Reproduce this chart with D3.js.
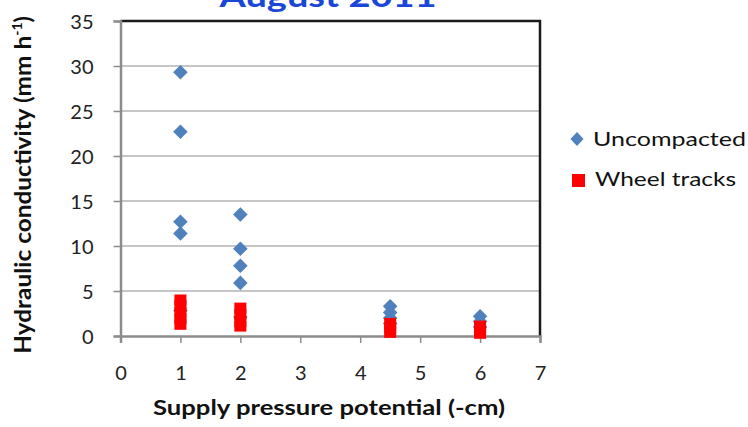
<!DOCTYPE html>
<html>
<head>
<meta charset="utf-8">
<script src="https://cdn.jsdelivr.net/npm/d3@7"></script>
<style>
  html, body { margin: 0; padding: 0; background: #fff; }
  svg { display: block; font-family: Lato, "Open Sans", sans-serif; }
</style>
</head>
<body>
<svg id="chart" width="748" height="427"></svg>
<script>
// Supply pressure potential (-cm) and hydraulic conductivity (mm/h) per series
const uncompactedX = [1, 1, 1, 1, 1, 2, 2, 2, 2, 2, 4.5, 4.5, 4.5, 4.5, 6, 6, 6];
const uncompactedY = [29.3, 22.7, 12.7, 11.4, 2.8, 13.5, 9.7, 7.8, 5.9, 2.1, 3.3, 2.6, 2.0, 1.4, 2.2, 1.6, 1.0];
const wheelX = [1, 1, 1, 1, 1, 2, 2, 2, 2, 4.5, 4.5, 4.5, 6, 6, 6];
const wheelY = [4.0, 3.4, 2.6, 1.9, 1.3, 3.1, 2.4, 1.6, 1.1, 1.4, 0.9, 0.4, 1.1, 0.7, 0.3];
const xTicks = [0, 1, 2, 3, 4, 5, 6, 7];
const yTicks = [0, 5, 10, 15, 20, 25, 30, 35];
const seriesNames = ["Uncompacted", "Wheel tracks"];
const seriesColors = ["#4f81bd", "#ff0000"];

const svg = d3.select("#chart");
const plot = { left: 120.5, right: 540, top: 21, bottom: 336 };

const x = d3.scaleLinear().domain([0, 7]).range([plot.left, plot.right]);
const y = d3.scaleLinear().domain([0, 35]).range([plot.bottom, plot.top]);

// Title (runs off the top edge)
svg.append("text")
  .attr("x", 328).attr("y", 7)
  .attr("text-anchor", "middle")
  .attr("font-weight", "bold").attr("font-size", 30)
  .attr("textLength", 217).attr("lengthAdjust", "spacingAndGlyphs")
  .attr("fill", "#1a47d6")
  .text("August 2011");

// Horizontal gridlines
svg.append("g").selectAll("line")
  .data(yTicks.filter(d => d > 0 && d < 35))
  .join("line")
  .attr("x1", plot.left).attr("x2", plot.right)
  .attr("y1", d => y(d)).attr("y2", d => y(d))
  .attr("stroke", "#b3b3b3").attr("stroke-width", 1.5);

// Plot-area frame (top and right)
svg.append("path")
  .attr("d", `M${plot.left},${y(35)}H${plot.right}V${plot.bottom}`)
  .attr("fill", "none").attr("stroke", "#1a1a1a").attr("stroke-width", 2.5);

// Axes
const yAxis = d3.axisLeft(y).tickValues(yTicks).tickFormat(d3.format("d")).tickSize(7).tickPadding(20);
const xAxis = d3.axisBottom(x).tickValues(xTicks).tickFormat(d3.format("d")).tickSize(7).tickPadding(23);

const gy = svg.append("g").attr("transform", `translate(${plot.left},0)`).call(yAxis);
const gx = svg.append("g").attr("transform", `translate(0,${plot.bottom})`).call(xAxis);

[gx, gy].forEach(g => {
  g.select(".domain").attr("stroke", "#8c8c8c").attr("stroke-width", 2.5);
  g.selectAll(".tick line").attr("stroke", "#8c8c8c").attr("stroke-width", 1.5);
  g.selectAll(".tick text")
    .attr("font-family", "Lato, 'Open Sans', sans-serif")
    .attr("font-size", 20).attr("fill", "#222");
});
gy.selectAll(".tick text").attr("dy", "0.35em");

// Axis titles
svg.append("text")
  .attr("x", 329).attr("y", 415)
  .attr("text-anchor", "middle")
  .attr("font-weight", "bold").attr("font-size", 21).attr("fill", "#111")
  .attr("textLength", 352).attr("lengthAdjust", "spacingAndGlyphs")
  .text("Supply pressure potential (-cm)");

const yTitle = svg.append("text")
  .attr("transform", "translate(31,185) rotate(-90)")
  .attr("text-anchor", "middle")
  .attr("font-weight", "bold").attr("font-size", 23).attr("fill", "#111");
yTitle.append("tspan").attr("textLength", 318).attr("lengthAdjust", "spacingAndGlyphs")
  .text("Hydraulic conductivity (mm h");
yTitle.append("tspan").attr("font-size", 14).attr("dy", -9).text("-1");
yTitle.append("tspan").attr("dy", 9).text(")");

// Markers
const diamond = d3.symbol().type(d3.symbolDiamond2).size(135);
const uncompacted = uncompactedX.map((v, i) => ({ x: v, y: uncompactedY[i] }));
const wheel = wheelX.map((v, i) => ({ x: v, y: wheelY[i] }));

svg.append("g").selectAll("path")
  .data(uncompacted)
  .join("path")
  .attr("d", diamond)
  .attr("transform", d => `translate(${x(d.x)},${y(d.y)})`)
  .attr("fill", seriesColors[0]);

const sqW = 12, sqH = 11;
svg.append("g").selectAll("rect")
  .data(wheel)
  .join("rect")
  .attr("x", d => x(d.x) - sqW / 2).attr("y", d => y(d.y) - sqH / 2)
  .attr("width", sqW).attr("height", sqH)
  .attr("fill", seriesColors[1]);

// Legend
const legend = svg.append("g");
legend.append("path")
  .attr("d", d3.symbol().type(d3.symbolDiamond2).size(110))
  .attr("transform", "translate(577,139) scale(1,1.08)")
  .attr("fill", seriesColors[0]);
legend.append("rect")
  .attr("x", 572).attr("y", 174).attr("width", 13).attr("height", 13)
  .attr("fill", seriesColors[1]);
const legendWidths = [153, 141];
const legendX = [593, 595];
legend.selectAll("text")
  .data(seriesNames)
  .join("text")
  .attr("x", (d, i) => legendX[i]).attr("y", (d, i) => 146 + i * 40)
  .attr("font-size", 19).attr("fill", "#111")
  .attr("textLength", (d, i) => legendWidths[i]).attr("lengthAdjust", "spacingAndGlyphs")
  .text(d => d);
</script>
</body>
</html>
